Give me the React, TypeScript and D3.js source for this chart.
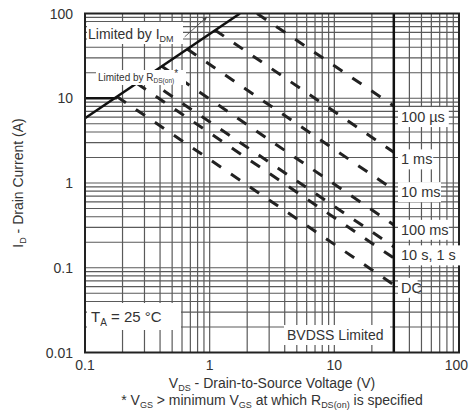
import React from 'react';
import * as d3 from 'd3';

// x ticks (V) and y ticks (A)
const xTicks = [0.1, 1, 10, 100];
const xTickLabels = ['0.1', '1', '10', '100'];
const yTicks = [0.01, 0.1, 1, 10, 100];
const yTickLabels = ['0.01', '0.1', '1', '10', '100'];

// pulse-width limit lines: [startV, startI, endV, endI]
const pulseNames = ['100 µs', '1 ms', '10 ms', '100 ms', '1 s', '10 s', 'DC'];
const pulseStart = [
	[2.4, 100],
	[1.1, 64],
	[0.66, 38],
	[0.41, 24],
	[0.3, 17.5],
	[0.26, 15],
	[0.18, 10.5],
];
const pulseEnd = [
	[30, 8.1],
	[30, 2.3],
	[30, 0.83],
	[30, 0.32],
	[30, 0.177],
	[30, 0.13],
	[30, 0.063],
];

// right side labels: text and the current at which they sit
const rightLabels = ['100 µs', '1 ms', '10 ms', '100 ms', '10 s, 1 s', 'DC'];
const rightLabelI = [6.0, 1.9, 0.78, 0.28, 0.14, 0.058];

// RDS(on) limit, DC current limit, BVDSS limit
const rdsLine = [
	[0.1, 5.8],
	[1.75, 100],
];
const idLine = [
	[0.1, 10],
	[0.18, 10],
];
const bvdss = 30;

const W = 469;
const H = 416;
const L = 85;
const R = 459;
const T = 13.5;
const B = 352.5;

const App: React.FC = () => {
	const x = d3.scaleLog().domain([0.1, 100]).range([L, R]);
	const y = d3.scaleLog().domain([0.01, 100]).range([B, T]);

	const line = d3
		.line<number[]>()
		.x((d) => x(d[0]))
		.y((d) => y(d[1]));

	// log grid values
	const gridX: number[] = [];
	for (let dec = 0.1; dec < 100; dec *= 10)
		for (let k = 1; k <= 9; k++) gridX.push(+(dec * k).toPrecision(3));
	const gridY: number[] = [];
	for (let dec = 0.01; dec < 100; dec *= 10)
		for (let k = 1; k <= 9; k++) gridY.push(+(dec * k).toPrecision(3));

	const font = 'Liberation Sans, Arial, sans-serif';
	const txt = '#333';

	return (
		<div style={{ position: 'absolute', left: 0, top: 0 }}>
			<svg width={W} height={H} style={{ display: 'block', background: '#fff' }} fontFamily={font}>
				<defs>
					<clipPath id='plot'>
						<rect x={L} y={T} width={R - L} height={B - T} />
					</clipPath>
					<marker id='arr' viewBox='0 0 10 10' refX='9' refY='5' markerWidth='6' markerHeight='6' orient='auto'>
						<path d='M0,1 L10,5 L0,9 z' fill='#444' />
					</marker>
				</defs>

				{/* grid */}
				<g stroke='#5a5a5a' strokeWidth={1.2}>
					{gridX.map((v, i) => (
						<line key={'gx' + i} x1={x(v)} x2={x(v)} y1={T} y2={B} />
					))}
					{gridY.map((v, i) => (
						<line key={'gy' + i} x1={L} x2={R} y1={y(v)} y2={y(v)} />
					))}
				</g>

				<g clipPath='url(#plot)'>
					{/* pulse lines */}
					{pulseNames.map((n, i) => (
						<path
							key={n}
							d={line([pulseStart[i], pulseEnd[i]]) as string}
							fill='none'
							stroke='#222'
							strokeWidth={3}
							strokeDasharray='11 12'
						/>
					))}
					<path d={line(rdsLine) as string} fill='none' stroke='#111' strokeWidth={2.5} />
					<path d={line(idLine) as string} fill='none' stroke='#111' strokeWidth={2.5} />
				</g>

				{/* BVDSS limit */}
				<line x1={x(bvdss)} x2={x(bvdss)} y1={T} y2={B} stroke='#111' strokeWidth={2.5} />

				{/* frame */}
				<rect x={L} y={T} width={R - L} height={B - T} fill='none' stroke='#222' strokeWidth={2} />

				{/* annotations */}
				<rect x={87} y={22} width={96} height={22} fill='#fff' />
				<text x={88} y={39} fontSize={14} fill={txt}>
					Limited by I
					<tspan fontSize={9} dy={3}>DM</tspan>
				</text>
				<line x1={x(0.63)} y1={y(53)} x2={x(0.95)} y2={y(91)} stroke='#444' strokeWidth={0.8} markerEnd='url(#arr)' />

				<rect x={96} y={70} width={90} height={15} fill='#fff' />
				<text x={98} y={81} fontSize={10} fill={txt}>
					Limited by R
					<tspan fontSize={6.5} dy={2}>DS(on)</tspan>
					<tspan dy={-6}>*</tspan>
				</text>

				<rect x={87} y={303} width={94} height={27} fill='#fff' />
				<text x={91} y={322} fontSize={15} fill={txt}>
					T
					<tspan fontSize={10} dy={4}>A</tspan>
					<tspan dy={-4}> = 25 °C</tspan>
				</text>

				<rect x={284} y={325} width={106} height={20} fill='#fff' />
				<text x={287} y={340} fontSize={14} fill={txt}>
					BVDSS Limited
				</text>

				{rightLabels.map((t, i) => {
					const yy = y(rightLabelI[i]);
					const w = t.length * 7.8 + 4;
					return (
						<g key={t}>
							<rect x={398} y={yy - 10} width={w} height={20} fill='#fff' />
							<text x={401} y={yy + 5} fontSize={14.5} fill={txt}>
								{t}
							</text>
						</g>
					);
				})}

				{/* tick labels */}
				{yTicks.map((v, i) => (
					<text key={'yt' + v} x={73} y={y(v) + 5} fontSize={14} textAnchor='end' fill={txt}>
						{yTickLabels[i]}
					</text>
				))}
				{xTicks.map((v, i) => (
					<text
						key={'xt' + v}
						x={i === xTicks.length - 1 ? W - 1 : x(v)}
						y={370}
						fontSize={14}
						textAnchor={i === xTicks.length - 1 ? 'end' : 'middle'}
						fill={txt}>
						{xTickLabels[i]}
					</text>
				))}

				{/* axis titles */}
				<text x={272} y={388} fontSize={14} textAnchor='middle' fill={txt}>
					V<tspan fontSize={9} dy={3}>DS</tspan>
					<tspan dy={-3}> - Drain-to-Source Voltage (V)</tspan>
				</text>
				<text x={272} y={405} fontSize={14} textAnchor='middle' fill={txt}>
					* V<tspan fontSize={9} dy={3}>GS</tspan>
					<tspan dy={-3}> &gt; minimum V</tspan>
					<tspan fontSize={9} dy={3}>GS</tspan>
					<tspan dy={-3}> at which R</tspan>
					<tspan fontSize={9} dy={3}>DS(on)</tspan>
					<tspan dy={-3}> is specified</tspan>
				</text>
				<text transform={`translate(23, ${(T + B) / 2}) rotate(-90)`} fontSize={14} textAnchor='middle' fill={txt}>
					I<tspan fontSize={9} dy={3}>D</tspan>
					<tspan dy={-3}> - Drain Current (A)</tspan>
				</text>
			</svg>
		</div>
	);
};

export default App;
